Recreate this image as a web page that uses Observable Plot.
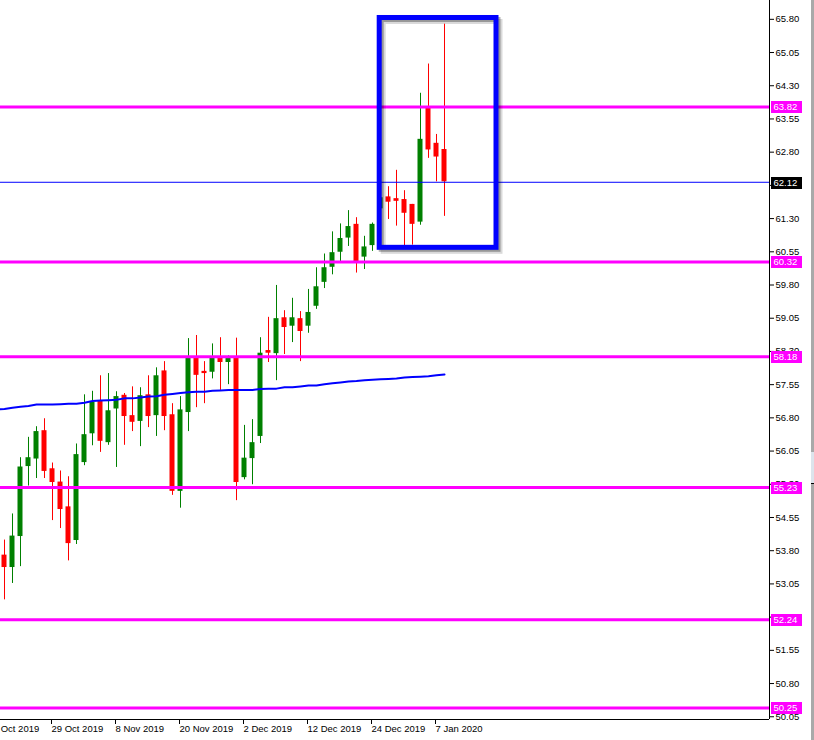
<!DOCTYPE html>
<html><head><meta charset="utf-8">
<script src="https://cdn.jsdelivr.net/npm/d3@7"></script>
<script src="https://cdn.jsdelivr.net/npm/@observablehq/plot@0.6"></script>
<style>
html,body{margin:0;padding:0;background:#fff;}
#wrap{position:relative;width:814px;height:740px;overflow:hidden;}
#chart svg{display:block;}
#sb{position:absolute;left:811px;top:0;width:3px;height:740px;background:#a9a9a9;}
#sb2{position:absolute;left:811px;top:452px;width:3px;height:31px;background:#dde4ec;border-bottom:1px solid #000;}
</style></head>
<body>
<div id="wrap"><div id="chart"></div><div id="sb"></div><div id="sb2"></div></div>
<script>
// Daily bars (trading days)
const dates = ["2019-10-21","2019-10-22","2019-10-23","2019-10-24","2019-10-25","2019-10-28","2019-10-29","2019-10-30","2019-10-31","2019-11-01",
"2019-11-04","2019-11-05","2019-11-06","2019-11-07","2019-11-08","2019-11-11","2019-11-12","2019-11-13","2019-11-14","2019-11-15",
"2019-11-18","2019-11-19","2019-11-20","2019-11-21","2019-11-22","2019-11-25","2019-11-26","2019-11-27","2019-11-28","2019-11-29",
"2019-12-02","2019-12-03","2019-12-04","2019-12-05","2019-12-06","2019-12-09","2019-12-10","2019-12-11","2019-12-12","2019-12-13",
"2019-12-16","2019-12-17","2019-12-18","2019-12-19","2019-12-20","2019-12-23","2019-12-24","2019-12-26","2019-12-27","2019-12-30",
"2019-12-31","2020-01-02","2020-01-03","2020-01-06","2020-01-07","2020-01-08"];
const open  = [53.70,53.42,54.12,55.70,55.87,56.51,55.65,55.35,54.79,54.03, 55.79,56.44,57.19,56.24,57.00,57.31,56.85,56.72,57.32,56.85,
               57.86,56.87,55.14,56.92,58.17,57.85,57.83,58.17,58.05,58.17, 55.45,55.88,56.38,58.32,58.25,59.06,58.87,59.04,58.87,59.32,
               59.86,60.20,60.54,60.86,61.17,60.43,60.69,61.52,61.79,61.75, 61.73,61.62,61.22,63.82,63.00,62.86];
const high  = [54.04,54.63,55.90,56.36,56.60,56.78,55.78,55.60,55.47,56.21, 57.32,57.40,57.75,57.80,57.39,57.35,57.50,57.48,57.75,57.93,
               58.07,57.12,57.28,58.59,58.66,58.07,58.47,58.61,58.20,58.60, 56.63,56.76,58.61,59.07,59.79,59.22,59.50,59.20,59.70,60.19,
               60.50,61.00,61.18,61.48,61.32,60.90,61.20,61.85,62.02,62.39, 61.93,61.62,64.13,64.79,63.20,65.69];
const low   = [52.69,53.06,53.44,55.26,55.43,55.43,54.48,54.30,53.57,53.94, 55.72,56.17,56.02,56.18,55.68,56.18,56.49,56.15,56.58,56.38,
               56.51,55.05,54.76,56.49,57.03,57.12,57.68,57.42,57.55,54.93, 55.40,55.29,56.22,58.05,57.64,58.23,58.50,58.07,58.71,59.25,
               59.72,60.03,60.30,60.67,60.07,60.15,60.56,61.45,61.28,61.13, 60.66,60.70,61.15,62.66,62.13,61.35];
const close = [53.42,54.13,55.69,55.90,56.49,55.59,55.34,54.73,53.96,55.97, 56.42,57.15,56.27,56.96,57.28,56.83,56.70,57.30,56.83,57.75,
               56.83,55.14,56.98,58.17,57.76,57.80,58.17,58.05,58.17,55.34, 55.89,56.24,58.26,58.26,59.04,58.84,59.06,58.75,59.18,59.76,
               60.19,60.53,60.85,61.12,60.30,60.66,61.17,61.77,61.67,61.69, 61.42,61.17,63.09,62.85,62.69,62.13];
// moving average (value for the bar before the first visible one, then one per bar)
const maPrev = 56.99;
const ma = [57.00,57.03,57.05,57.07,57.10,57.10,57.10,57.11,57.12,57.12, 57.14,57.18,57.19,57.20,57.21,57.24,57.24,57.26,57.28,57.29,
            57.32,57.34,57.36,57.38,57.39,57.39,57.41,57.42,57.43,57.43, 57.43,57.43,57.45,57.46,57.46,57.49,57.49,57.51,57.53,57.53,
            57.56,57.58,57.60,57.62,57.63,57.65,57.66,57.67,57.68,57.69, 57.71,57.72,57.73,57.74,57.76,57.78];
// horizontal levels
const levels = [63.82, 60.32, 58.18, 55.23, 52.24, 50.25];
const currentPrice = 62.12;
// axis ticks
const yTicks = [65.80,65.05,64.30,63.55,62.80,62.05,61.30,60.55,59.80,59.05,58.30,57.55,56.80,56.05,55.30,54.55,53.80,53.05,52.30,51.55,50.80,50.05];
const xTickIdx = [-2, 6, 14, 22, 30, 38, 46, 54];
const xTickLabels = ["17 Oct 2019","29 Oct 2019","8 Nov 2019","20 Nov 2019","2 Dec 2019","12 Dec 2019","24 Dec 2019","7 Jan 2020"];
// highlight rectangle anchors (bar index, price)
const boxIdx = [46.9, 61.5];
const boxPrice = [60.64, 65.83];

const GREEN = "#008000", RED = "#ff0000", MAGENTA = "#ff00ff", BLUE = "#0000ff";
const bars = dates.map((d, i) => ({i, date: d, o: open[i], h: high[i], l: low[i], c: close[i], up: close[i] >= open[i]}));
const maData = [{i: -1, v: maPrev}, ...ma.map((v, i) => ({i, v}))];
const xDomain = [-0.5, 95.625];
const yDomain = [49.988, 66.225];
const tickLabel = new Map(xTickIdx.map((k, j) => [k, xTickLabels[j]]));
const box = [{x1: boxIdx[0], x2: boxIdx[1], y1: boxPrice[0], y2: boxPrice[1]}];

function priceLabels(index, scales, values, dimensions) {
  const g = d3.create("svg:g").attr("text-anchor", "start");
  const x0 = dimensions.width - dimensions.marginRight + 2;
  const items = levels.map(v => ({v, bg: MAGENTA})).concat([{v: currentPrice, bg: "#000"}]);
  for (const it of items) {
    const y = Math.round(scales.y(it.v));
    g.append("rect").attr("x", x0).attr("y", y - 5).attr("width", 31).attr("height", 12).attr("fill", it.bg);
    g.append("text").attr("x", x0 + 2.5).attr("y", y + 1).attr("dy", "0.35em").attr("text-anchor", "start")
      .attr("fill", "#fff").attr("font-size", "9.5px").text(it.v.toFixed(2));
  }
  return g.node();
}

const chart = Plot.plot({
  width: 814, height: 740,
  marginLeft: 0, marginRight: 45, marginTop: 0, marginBottom: 21,
  style: {fontFamily: "'Liberation Sans', Arial, sans-serif", fontSize: "9.5px", background: "#fff", color: "#000"},
  x: {domain: xDomain},
  y: {domain: yDomain},
  marks: [
    Plot.ruleX(bars, {x: "i", y1: "l", y2: "h", stroke: d => d.up ? GREEN : RED, strokeWidth: 1}),
    Plot.rect(bars, {x1: d => d.i - 0.3125, x2: d => d.i + 0.3125, y1: "o", y2: "c", fill: d => d.up ? GREEN : RED}),
    Plot.line(maData, {x: "i", y: "v", stroke: BLUE, strokeWidth: 2, clip: true}),
    Plot.ruleY(levels, {stroke: MAGENTA, strokeWidth: 3}),
    Plot.ruleY([currentPrice], {stroke: BLUE, strokeWidth: 1}),
    Plot.rect(box, {x1: "x1", x2: "x2", y1: "y1", y2: "y2", fill: "none", stroke: "#000", strokeOpacity: 0.15, strokeWidth: 5, dx: 4, dy: 4}),
    Plot.rect(box, {x1: "x1", x2: "x2", y1: "y1", y2: "y2", fill: "none", stroke: "#000", strokeOpacity: 0.3, strokeWidth: 5, dx: 2, dy: 2}),
    Plot.rect(box, {x1: "x1", x2: "x2", y1: "y1", y2: "y2", fill: "none", stroke: BLUE, strokeWidth: 5}),
    Plot.ruleX([xDomain[1]], {stroke: "#000"}),
    Plot.ruleY([yDomain[0]], {stroke: "#000"}),
    Plot.axisY({anchor: "right", ticks: yTicks, tickFormat: d => d.toFixed(2), tickSize: 4, tickPadding: 2, label: null}),
    Plot.axisX({anchor: "bottom", ticks: xTickIdx, tickFormat: d => tickLabel.get(d), tickSize: 5, tickPadding: 1, textAnchor: "start", dx: -1, label: null}),
    priceLabels
  ]
});
document.getElementById("chart").appendChild(chart);
</script>
</body></html>
